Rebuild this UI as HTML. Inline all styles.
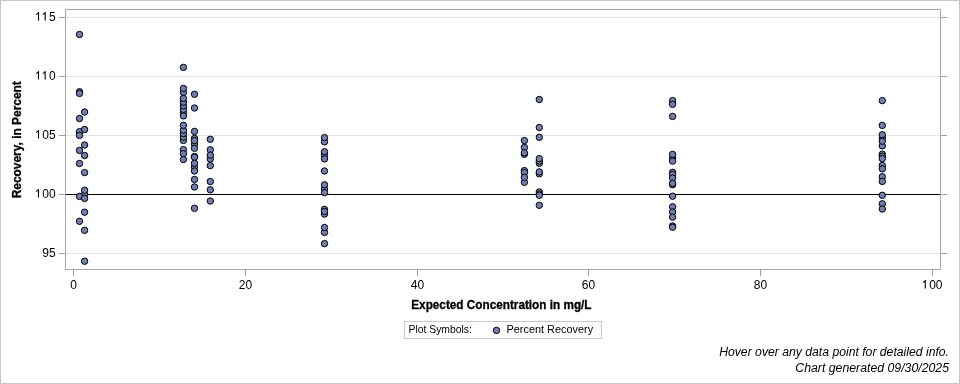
<!DOCTYPE html>
<html><head><meta charset="utf-8">
<style>
html,body{margin:0;padding:0;background:#fff;}
body{width:960px;height:384px;overflow:hidden;position:relative;}
svg{position:absolute;left:0;top:0;will-change:transform;}
.t{font-family:"Liberation Sans",sans-serif;font-size:12px;fill:#000;}
.b{font-family:"Liberation Sans",sans-serif;font-size:12px;font-weight:bold;fill:#000;stroke:#000;stroke-width:0.3px;}
.s{font-family:"Liberation Sans",sans-serif;font-size:11px;fill:#000;}
.i{font-family:"Liberation Sans",sans-serif;font-size:12px;font-style:italic;fill:#000;}
</style></head><body>
<svg width="960" height="384" viewBox="0 0 960 384">
<rect x="0.5" y="0.5" width="959" height="383" fill="#fff" stroke="#c8c8c8" stroke-width="1"/>
<g shape-rendering="crispEdges">
<line x1="66" y1="17.5" x2="939" y2="17.5" stroke="#e4e4e4" stroke-width="1"/>
<line x1="66" y1="76.5" x2="939" y2="76.5" stroke="#e4e4e4" stroke-width="1"/>
<line x1="66" y1="135.5" x2="939" y2="135.5" stroke="#e4e4e4" stroke-width="1"/>
<line x1="66" y1="253.5" x2="939" y2="253.5" stroke="#e4e4e4" stroke-width="1"/>
<line x1="66" y1="194.5" x2="940" y2="194.5" stroke="#000" stroke-width="1"/>
<rect x="65.5" y="9.5" width="875" height="260" fill="none" stroke="#a8a8a8" stroke-width="1"/>
<line x1="59" y1="17.5" x2="65" y2="17.5" stroke="#a0a0a0"/>
<line x1="941" y1="17.5" x2="947" y2="17.5" stroke="#a0a0a0"/>
<line x1="59" y1="76.5" x2="65" y2="76.5" stroke="#a0a0a0"/>
<line x1="941" y1="76.5" x2="947" y2="76.5" stroke="#a0a0a0"/>
<line x1="59" y1="135.5" x2="65" y2="135.5" stroke="#a0a0a0"/>
<line x1="941" y1="135.5" x2="947" y2="135.5" stroke="#a0a0a0"/>
<line x1="59" y1="194.5" x2="65" y2="194.5" stroke="#a0a0a0"/>
<line x1="941" y1="194.5" x2="947" y2="194.5" stroke="#a0a0a0"/>
<line x1="59" y1="253.5" x2="65" y2="253.5" stroke="#a0a0a0"/>
<line x1="941" y1="253.5" x2="947" y2="253.5" stroke="#a0a0a0"/>
<line x1="73.5" y1="270" x2="73.5" y2="276" stroke="#a0a0a0"/>
<line x1="245.5" y1="270" x2="245.5" y2="276" stroke="#a0a0a0"/>
<line x1="417.5" y1="270" x2="417.5" y2="276" stroke="#a0a0a0"/>
<line x1="588.5" y1="270" x2="588.5" y2="276" stroke="#a0a0a0"/>
<line x1="760.5" y1="270" x2="760.5" y2="276" stroke="#a0a0a0"/>
<line x1="932.5" y1="270" x2="932.5" y2="276" stroke="#a0a0a0"/>
</g>
<g fill="#000">
<path transform="translate(35.70 20.6)" d="M3.35 0V-8.6H2.55Q2.1-7.5 0.35-6.6V-5.6Q1.6-6.1 2.25-6.8V0Z"/>
<path transform="translate(42.37 20.6)" d="M3.35 0V-8.6H2.55Q2.1-7.5 0.35-6.6V-5.6Q1.6-6.1 2.25-6.8V0Z"/>
<text x="49.05" y="20.6" class="t">5</text>
<path transform="translate(35.70 79.6)" d="M3.35 0V-8.6H2.55Q2.1-7.5 0.35-6.6V-5.6Q1.6-6.1 2.25-6.8V0Z"/>
<path transform="translate(42.37 79.6)" d="M3.35 0V-8.6H2.55Q2.1-7.5 0.35-6.6V-5.6Q1.6-6.1 2.25-6.8V0Z"/>
<text x="49.05" y="79.6" class="t">0</text>
<path transform="translate(35.70 138.6)" d="M3.35 0V-8.6H2.55Q2.1-7.5 0.35-6.6V-5.6Q1.6-6.1 2.25-6.8V0Z"/>
<text x="42.37" y="138.6" class="t">0</text>
<text x="49.05" y="138.6" class="t">5</text>
<path transform="translate(35.70 197.6)" d="M3.35 0V-8.6H2.55Q2.1-7.5 0.35-6.6V-5.6Q1.6-6.1 2.25-6.8V0Z"/>
<text x="42.37" y="197.6" class="t">0</text>
<text x="49.05" y="197.6" class="t">0</text>
<text x="42.37" y="256.6" class="t">9</text>
<text x="49.05" y="256.6" class="t">5</text>
<text x="70.16" y="288.6" class="t">0</text>
<text x="238.83" y="288.6" class="t">2</text>
<text x="245.50" y="288.6" class="t">0</text>
<text x="410.83" y="288.6" class="t">4</text>
<text x="417.50" y="288.6" class="t">0</text>
<text x="581.83" y="288.6" class="t">6</text>
<text x="588.50" y="288.6" class="t">0</text>
<text x="753.83" y="288.6" class="t">8</text>
<text x="760.50" y="288.6" class="t">0</text>
<path transform="translate(922.49 288.6)" d="M3.35 0V-8.6H2.55Q2.1-7.5 0.35-6.6V-5.6Q1.6-6.1 2.25-6.8V0Z"/>
<text x="929.16" y="288.6" class="t">0</text>
<text x="935.84" y="288.6" class="t">0</text>
</g>
<g fill="#6F7EB3" stroke="#000" stroke-width="1">
<circle cx="84.6" cy="194.2" r="3.2"/>
<circle cx="324.5" cy="189" r="3.2"/>
<circle cx="183.4" cy="92.5" r="3.2"/>
<circle cx="194.5" cy="138.4" r="3.2"/>
<circle cx="194.5" cy="156.5" r="3.2"/>
<circle cx="194.5" cy="167" r="3.2"/>
<circle cx="324.5" cy="155.3" r="3.2"/>
<circle cx="524.4" cy="154.3" r="3.2"/>
<circle cx="524.4" cy="170.6" r="3.2"/>
<circle cx="524.4" cy="182.3" r="3.2"/>
<circle cx="672.6" cy="157.8" r="3.2"/>
<circle cx="672.6" cy="172.3" r="3.2"/>
<circle cx="672.6" cy="184.7" r="3.2"/>
<circle cx="672.6" cy="226" r="3.2"/>
<circle cx="882.3" cy="137.8" r="3.2"/>
<circle cx="882.3" cy="145.9" r="3.2"/>
<circle cx="882.3" cy="165.5" r="3.2"/>
<circle cx="79.5" cy="221.3" r="3.2"/>
<circle cx="79.5" cy="196.4" r="3.2"/>
<circle cx="79.5" cy="163.5" r="3.2"/>
<circle cx="79.5" cy="150.4" r="3.2"/>
<circle cx="79.5" cy="131.7" r="3.2"/>
<circle cx="79.5" cy="118.5" r="3.2"/>
<circle cx="79.5" cy="91.7" r="3.2"/>
<circle cx="79.5" cy="34.5" r="3.2"/>
<circle cx="84.6" cy="261.2" r="3.2"/>
<circle cx="84.6" cy="230.3" r="3.2"/>
<circle cx="84.6" cy="212.2" r="3.2"/>
<circle cx="84.6" cy="198.4" r="3.2"/>
<circle cx="84.6" cy="190.2" r="3.2"/>
<circle cx="84.6" cy="172.6" r="3.2"/>
<circle cx="84.6" cy="155.5" r="3.2"/>
<circle cx="84.6" cy="145" r="3.2"/>
<circle cx="84.6" cy="129.5" r="3.2"/>
<circle cx="84.6" cy="112" r="3.2"/>
<circle cx="183.4" cy="140.4" r="3.2"/>
<circle cx="183.4" cy="137.2" r="3.2"/>
<circle cx="183.4" cy="133.6" r="3.2"/>
<circle cx="183.4" cy="130.2" r="3.2"/>
<circle cx="183.4" cy="125.3" r="3.2"/>
<circle cx="183.4" cy="112.5" r="3.2"/>
<circle cx="183.4" cy="109.4" r="3.2"/>
<circle cx="183.4" cy="105.8" r="3.2"/>
<circle cx="183.4" cy="102.2" r="3.2"/>
<circle cx="183.4" cy="88.4" r="3.2"/>
<circle cx="183.4" cy="67.4" r="3.2"/>
<circle cx="194.5" cy="208.3" r="3.2"/>
<circle cx="194.5" cy="187" r="3.2"/>
<circle cx="194.5" cy="179.5" r="3.2"/>
<circle cx="194.5" cy="157.2" r="3.2"/>
<circle cx="194.5" cy="144.2" r="3.2"/>
<circle cx="194.5" cy="131.4" r="3.2"/>
<circle cx="194.5" cy="108" r="3.2"/>
<circle cx="194.5" cy="94.3" r="3.2"/>
<circle cx="210.3" cy="201" r="3.2"/>
<circle cx="210.3" cy="189.8" r="3.2"/>
<circle cx="210.3" cy="181.5" r="3.2"/>
<circle cx="210.3" cy="159" r="3.2"/>
<circle cx="210.3" cy="149.8" r="3.2"/>
<circle cx="210.3" cy="139.3" r="3.2"/>
<circle cx="324.5" cy="243.6" r="3.2"/>
<circle cx="324.5" cy="232.4" r="3.2"/>
<circle cx="324.5" cy="227.5" r="3.2"/>
<circle cx="324.5" cy="214.1" r="3.2"/>
<circle cx="324.5" cy="209.4" r="3.2"/>
<circle cx="324.5" cy="192.6" r="3.2"/>
<circle cx="324.5" cy="184.8" r="3.2"/>
<circle cx="324.5" cy="171" r="3.2"/>
<circle cx="324.5" cy="151.7" r="3.2"/>
<circle cx="324.5" cy="141.8" r="3.2"/>
<circle cx="324.5" cy="137.6" r="3.2"/>
<circle cx="524.4" cy="147.4" r="3.2"/>
<circle cx="524.4" cy="140.6" r="3.2"/>
<circle cx="539.3" cy="205.3" r="3.2"/>
<circle cx="539.3" cy="173.8" r="3.2"/>
<circle cx="539.3" cy="171.9" r="3.2"/>
<circle cx="539.3" cy="163.3" r="3.2"/>
<circle cx="539.3" cy="161.1" r="3.2"/>
<circle cx="539.3" cy="158.6" r="3.2"/>
<circle cx="539.3" cy="137.3" r="3.2"/>
<circle cx="539.3" cy="127.5" r="3.2"/>
<circle cx="539.3" cy="99.5" r="3.2"/>
<circle cx="672.6" cy="227.2" r="3.2"/>
<circle cx="672.6" cy="196.2" r="3.2"/>
<circle cx="672.6" cy="174.5" r="3.2"/>
<circle cx="672.6" cy="116.4" r="3.2"/>
<circle cx="672.6" cy="100.6" r="3.2"/>
<circle cx="882.3" cy="195.3" r="3.2"/>
<circle cx="882.3" cy="125.4" r="3.2"/>
<circle cx="882.3" cy="100.6" r="3.2"/>
<circle cx="324.5" cy="211.5" r="3.2"/>
<circle cx="79.5" cy="93.4" r="3.2"/>
<circle cx="183.4" cy="98.5" r="3.2"/>
<circle cx="183.4" cy="115.9" r="3.2"/>
<circle cx="194.5" cy="140.6" r="3.2"/>
<circle cx="194.5" cy="148.3" r="3.2"/>
<circle cx="194.5" cy="163.3" r="3.2"/>
<circle cx="194.5" cy="171" r="3.2"/>
<circle cx="210.3" cy="155.1" r="3.2"/>
<circle cx="210.3" cy="165.6" r="3.2"/>
<circle cx="324.5" cy="158.9" r="3.2"/>
<circle cx="524.4" cy="152.8" r="3.2"/>
<circle cx="524.4" cy="172.6" r="3.2"/>
<circle cx="524.4" cy="177.3" r="3.2"/>
<circle cx="539.3" cy="191.9" r="3.2"/>
<circle cx="539.3" cy="193.9" r="3.2"/>
<circle cx="539.3" cy="195.3" r="3.2"/>
<circle cx="672.6" cy="104.3" r="3.2"/>
<circle cx="672.6" cy="154.4" r="3.2"/>
<circle cx="672.6" cy="161.1" r="3.2"/>
<circle cx="672.6" cy="178" r="3.2"/>
<circle cx="672.6" cy="183.3" r="3.2"/>
<circle cx="672.6" cy="206.8" r="3.2"/>
<circle cx="672.6" cy="212" r="3.2"/>
<circle cx="672.6" cy="217.1" r="3.2"/>
<circle cx="882.3" cy="134.8" r="3.2"/>
<circle cx="882.3" cy="141.2" r="3.2"/>
<circle cx="882.3" cy="154.2" r="3.2"/>
<circle cx="882.3" cy="156.3" r="3.2"/>
<circle cx="882.3" cy="158.6" r="3.2"/>
<circle cx="882.3" cy="168.8" r="3.2"/>
<circle cx="79.5" cy="135.4" r="3.2"/>
<circle cx="183.4" cy="149.6" r="3.2"/>
<circle cx="183.4" cy="153.7" r="3.2"/>
<circle cx="183.4" cy="159.5" r="3.2"/>
<circle cx="882.3" cy="176.7" r="3.2"/>
<circle cx="882.3" cy="181.4" r="3.2"/>
<circle cx="882.3" cy="203.8" r="3.2"/>
<circle cx="882.3" cy="209" r="3.2"/>
</g>
<text x="21" y="139.75" text-anchor="middle" class="b" textLength="117.2" lengthAdjust="spacingAndGlyphs" transform="rotate(-90 21 139.75)">Recovery, in Percent</text>
<text x="501.4" y="309" text-anchor="middle" class="b" textLength="180.3" lengthAdjust="spacingAndGlyphs">Expected Concentration in mg/L</text>
<rect x="404.5" y="321.5" width="197" height="17" fill="#fff" stroke="#c8c8c8" stroke-width="1" shape-rendering="crispEdges"/>
<text x="408.5" y="333" class="s" textLength="63.4" lengthAdjust="spacingAndGlyphs">Plot Symbols:</text>
<circle cx="496.5" cy="330.4" r="3.2" fill="#6F7EB3" stroke="#000" stroke-width="1"/>
<text x="506.5" y="333" class="s" textLength="86.6" lengthAdjust="spacingAndGlyphs">Percent Recovery</text>
<text x="949" y="356" text-anchor="end" class="i" textLength="229.8" lengthAdjust="spacingAndGlyphs">Hover over any data point for detailed info.</text>
<text x="949" y="371.5" text-anchor="end" class="i" textLength="153.7" lengthAdjust="spacingAndGlyphs">Chart generated 09/30/2025</text>
</svg>
</body></html>
